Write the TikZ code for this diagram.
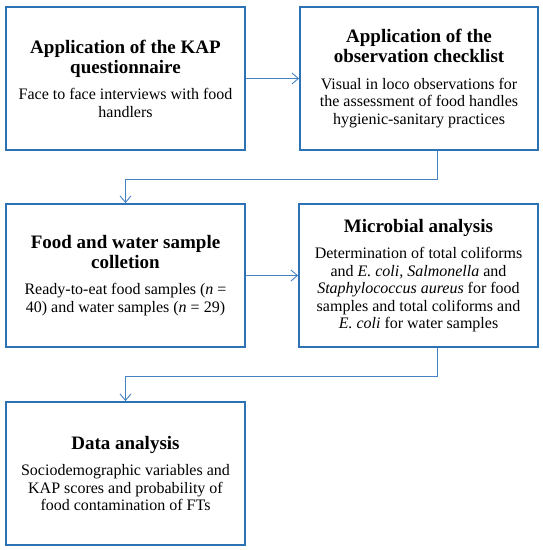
\documentclass[tikz,border=0pt]{standalone}
\usepackage{fontspec}
\setmainfont{Liberation Serif}
\usetikzlibrary{arrows.meta}
\definecolor{boxblue}{RGB}{46,114,182}
\definecolor{arrblue}{RGB}{68,130,196}
\tikzset{
  stagebox/.style={draw=boxblue, line width=1.8pt, minimum width=239pt, minimum height=143pt,
    align=center, inner sep=0pt, font=\fontsize{16}{17.5}\selectfont},
  conn/.style={draw=arrblue, line width=0.9pt, -{Straight Barb[length=6.5pt,width=11pt]}},
}
\newcommand{\T}[1]{{\fontsize{19}{17.5}\selectfont\bfseries #1}}
\begin{document}
\begin{tikzpicture}[x=1pt,y=-1pt]
\useasboundingbox (0,0) rectangle (543,550);
\node[stagebox] (b1) at (125.5,78.5) {\T{Application of the KAP}\\[2.5pt]\T{questionnaire}\\[9pt]Face to face interviews with food\\handlers};
\node[stagebox, minimum width=238pt] (b2) at (419,78.5) {\T{Application of the}\\[2.5pt]\T{observation checklist}\\[9pt]Visual in loco observations for\\the assessment of food handles\\hygienic-sanitary practices};
\node[stagebox] (b3) at (125.5,275.5) {\T{Food and water sample}\\[2.5pt]\T{colletion}\\[9pt]Ready-to-eat food samples (\textit{n} =\\40) and water samples (\textit{n} = 29)};
\node[stagebox] (b4) at (418.5,275.5) {\T{Microbial analysis}\\[9pt]Determination of total coliforms\\and \textit{E. coli, Salmonella} and\\\textit{Staphylococcus aureus} for food\\samples and total coliforms and\\\textit{E. coli} for water samples};
\node[stagebox] (b5) at (125.5,473.5) {\T{Data analysis}\\[9pt]Sociodemographic variables and\\KAP scores and probability of\\food contamination of FTs};
\coordinate (k1) at (437,179);
\coordinate (k2) at (437,376);
\draw[conn] (b1.east) -- (b2.west);
\draw[conn] (b2.south -| k1) -- (k1) -| (b3.north);
\draw[conn] (b3.east) -- (b4.west);
\draw[conn] (b4.south -| k2) -- (k2) -| (b5.north);
\end{tikzpicture}
\end{document}
